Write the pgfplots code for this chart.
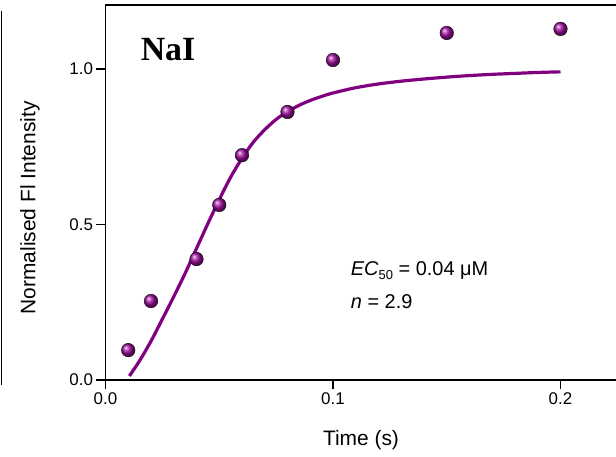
\documentclass[border=0pt]{standalone}
\usepackage{pgfplots}
\pgfplotsset{compat=1.18}
\usepackage{fontspec}
\setmainfont{Liberation Sans}
\newfontfamily\serifb{Liberation Serif}
\definecolor{pur}{HTML}{800080}
\definecolor{ballpur}{HTML}{A010A0}
\begin{document}
\begin{tikzpicture}[x=1bp,y=1bp]
\useasboundingbox (-105.5,-77) rectangle (510.5,380);
\draw[line width=1.5bp] (-104,-5) -- (-104,369);
\begin{axis}[
  at={(0,0)}, anchor=south west,
  scale only axis, width=510.5bp, height=375bp,
  xmin=0, xmax=0.2244, ymin=0, ymax=1.206,
  axis lines=left, axis line style={-, line width=1.6bp},
  tick align=outside, major tick length=9bp,
  tick style={line width=1.4bp, black},
  xtick={0,0.1,0.2}, ytick={0,0.5,1},
  xticklabels={0.0,0.1,0.2}, yticklabels={0.0,0.5,1.0},
  ticklabel style={font=\fontsize{17}{17}\selectfont},
  xlabel={Time (s)}, ylabel={Normalised Fl Intensity},
  label style={font=\fontsize{21}{21}\selectfont},
  xlabel style={at={(axis description cs:0.5005,-0.16)}, anchor=center},
  ylabel style={at={(axis description cs:-0.148,0.459)}, anchor=center},
  clip=false,
]
\addplot[pur, line width=3.2bp, smooth, tension=0.5] coordinates {
(0.0105,0.013) (0.015,0.062) (0.02,0.125) (0.025,0.196) (0.03,0.268)
(0.035,0.343) (0.04,0.423) (0.045,0.503) (0.05,0.580) (0.055,0.652)
(0.06,0.713) (0.065,0.765) (0.07,0.805) (0.075,0.838) (0.08,0.863)
(0.085,0.883) (0.09,0.899) (0.095,0.912) (0.10,0.923) (0.11,0.940)
(0.12,0.952) (0.13,0.961) (0.14,0.968) (0.15,0.974) (0.16,0.979)
(0.17,0.983) (0.18,0.986) (0.19,0.989) (0.20,0.991)
};
\addplot[only marks, mark=ball, mark size=6.8bp, ball color=ballpur, mark options={ball color=ballpur, draw=none}] coordinates {
(0.01,0.096) (0.02,0.254) (0.04,0.389) (0.05,0.563) (0.06,0.723)
(0.08,0.862) (0.1,1.029) (0.15,1.116) (0.2,1.129)
};
\draw[line width=1.6bp] (rel axis cs:0,1) -- (rel axis cs:1,1);
\node[font=\serifb\bfseries\fontsize{34}{34}\selectfont, anchor=base] at (axis cs:0.0275,1.029) {NaI};
\node[font=\fontsize{20}{20}\selectfont, anchor=base west, inner sep=0pt] at (axis cs:0.1078,0.3376) {\textit{EC}\raisebox{-0.45ex}{\fontsize{13}{13}\selectfont 50} = 0.04 μM};
\node[font=\fontsize{20}{20}\selectfont, anchor=base west, inner sep=0pt] at (axis cs:0.1078,0.2315) {\textit{n} = 2.9};
\end{axis}
\end{tikzpicture}
\end{document}
